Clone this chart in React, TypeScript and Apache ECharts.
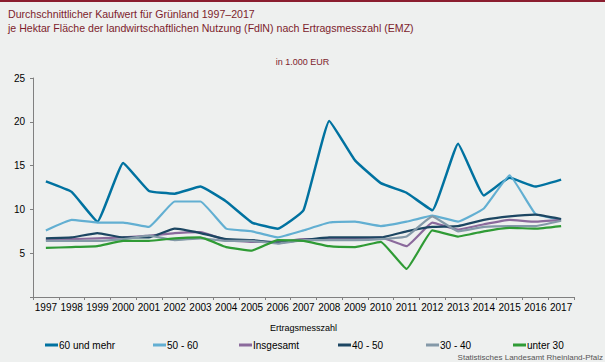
import React, { useEffect, useRef } from "react";
import * as echarts from "echarts";

const years = ["1997","1998","1999","2000","2001","2002","2003","2004","2005","2006","2007","2008","2009","2010","2011","2012","2013","2014","2015","2016","2017"];
const s60plus = [13.2, 12.0, 8.6, 15.3, 12.1, 11.8, 12.6, 10.9, 8.5, 7.8, 9.9, 20.1, 15.6, 13.0, 11.9, 9.9, 17.5, 11.6, 13.6, 12.6, 13.4];
const s50to60 = [7.6, 8.8, 8.5, 8.5, 8.0, 10.9, 10.9, 7.8, 7.5, 6.8, 7.6, 8.5, 8.6, 8.1, 8.6, 9.3, 8.6, 10.1, 13.9, 9.5, 8.8];
const sTotal = [6.5, 6.6, 6.7, 6.8, 7.0, 7.3, 7.4, 6.5, 6.3, 6.3, 6.6, 6.6, 6.6, 6.8, 5.8, 8.5, 7.7, 8.3, 8.8, 8.6, 8.8];
const s40to50 = [6.7, 6.8, 7.3, 6.8, 6.8, 7.8, 7.3, 6.6, 6.5, 6.2, 6.5, 6.8, 6.8, 6.8, 7.5, 8.0, 8.1, 8.8, 9.2, 9.4, 8.9];
const s30to40 = [6.4, 6.4, 6.4, 6.6, 7.0, 6.5, 6.7, 6.4, 6.4, 6.1, 6.5, 6.5, 6.5, 6.6, 6.9, 9.2, 7.5, 8.0, 8.1, 8.1, 8.7];
const sUnder30 = [5.6, 5.7, 5.8, 6.4, 6.4, 6.7, 6.8, 5.7, 5.3, 6.5, 6.4, 5.8, 5.7, 6.3, 3.2, 7.6, 6.9, 7.5, 7.9, 7.8, 8.1];

const seriesNames = ["60 und mehr", "50 - 60", "Insgesamt", "40 - 50", "30 - 40", "unter 30"];
const seriesData = [s60plus, s50to60, sTotal, s40to50, s30to40, sUnder30];
const seriesColors = ["#0072a0", "#62afd2", "#8b6a9c", "#1c4662", "#8499a8", "#2f9b35"];
const seriesWidths = [2.5, 2.2, 2.2, 2.2, 2.2, 2.2];
const legendLefts = [40, 148, 234, 333, 421, 508];

const FONT = "Liberation Sans, Arial, sans-serif";

export default function App() {
  const ref = useRef<HTMLDivElement>(null);
  useEffect(() => {
    if (!ref.current) return;
    const chart = echarts.init(ref.current, undefined, { renderer: "svg" });
    chart.setOption({
      animation: false,
      backgroundColor: "#eef0ef",
      textStyle: { fontFamily: FONT },
      graphic: [
        { type: "rect", left: 0, top: 0, shape: { width: 605, height: 2 }, style: { fill: "#8b1e2f" } },
        { type: "text", left: 8, top: 8, style: { text: "Durchschnittlicher Kaufwert für Grünland 1997–2017", fill: "#7d1d2c", font: `10.6px ${FONT}` } },
        { type: "text", left: 8, top: 22, style: { text: "je Hektar Fläche der landwirtschaftlichen Nutzung (FdlN) nach Ertragsmesszahl (EMZ)", fill: "#7d1d2c", font: `10.6px ${FONT}` } },
        { type: "text", left: "center", top: 57, style: { text: "in 1.000 EUR", fill: "#7d1d2c", font: `9px ${FONT}` } },
        { type: "text", right: 2, top: 353, style: { text: "Statistisches Landesamt Rheinland-Pfalz", fill: "#555", font: `8px ${FONT}` } },
      ],
      legend: seriesNames.map((n, i) => ({
        data: [n],
        left: legendLefts[i],
        top: 335,
        itemWidth: 13,
        itemHeight: 3,
        itemGap: 2,
        icon: "rect",
        textStyle: { fontSize: 10, color: "#000", fontFamily: FONT, padding: [0, 0, 0, -4] },
      })),
      grid: { left: 33, right: 31, top: 78, bottom: 65 },
      xAxis: {
        type: "category",
        data: years,
        boundaryGap: true,
        name: "Ertragsmesszahl",
        nameLocation: "middle",
        nameGap: 26,
        nameTextStyle: { fontSize: 9, color: "#000", fontFamily: FONT },
        axisLine: { lineStyle: { color: "#808080", width: 1 } },
        axisTick: { show: true, alignWithLabel: false, length: 3, lineStyle: { color: "#808080" } },
        axisLabel: { fontSize: 10, color: "#000", margin: 5, interval: 0, fontFamily: FONT },
        splitLine: { show: false },
      },
      yAxis: {
        type: "value",
        min: 0,
        max: 25,
        interval: 5,
        axisLine: { show: true, lineStyle: { color: "#808080", width: 1 } },
        axisTick: { show: true, length: 3, lineStyle: { color: "#808080" } },
        axisLabel: { fontSize: 10, color: "#000", margin: 8, fontFamily: FONT, formatter: (v: number) => (v === 0 ? "" : String(v)) },
        splitLine: { show: false },
      },
      series: seriesNames.map((n, i) => ({
        name: n,
        type: "line",
        data: seriesData[i],
        smooth: 0.1,
        symbol: "none",
        color: seriesColors[i],
        lineStyle: { color: seriesColors[i], width: seriesWidths[i] },
      })),
    });
    return () => chart.dispose();
  }, []);
  return <div ref={ref} style={{ position: "fixed", left: 0, top: 0, width: 605, height: 362 }} />;
}
